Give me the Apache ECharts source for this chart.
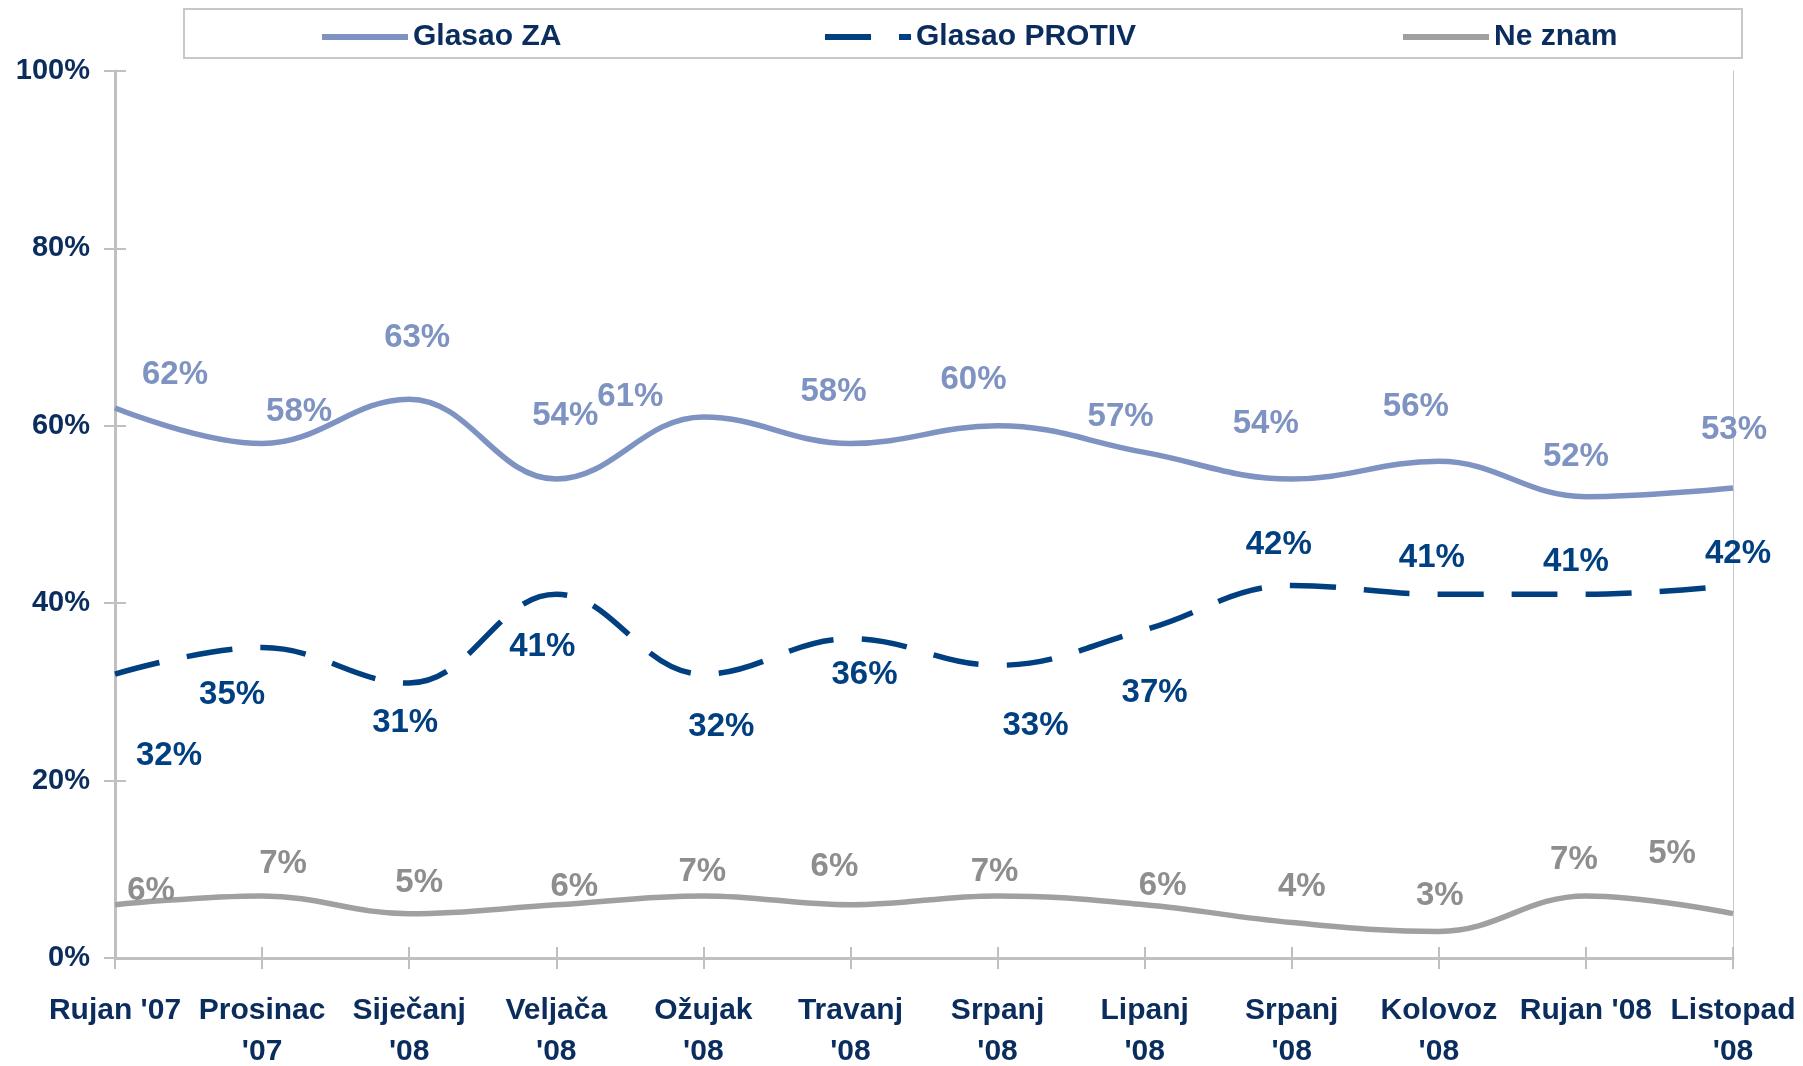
<!DOCTYPE html>
<html>
<head>
<meta charset="utf-8">
<script src="https://cdn.jsdelivr.net/npm/echarts@6/dist/echarts.min.js"></script>
<style>
  html, body { margin: 0; padding: 0; background: #fff; }
  #main { width: 1803px; height: 1066px; }
</style>
</head>
<body>
<div id="main"></div>
<script>
// podaci
const months = ["Rujan '07", "Prosinac\n'07", "Siječanj\n'08", "Veljača\n'08", "Ožujak\n'08", "Travanj\n'08",
  "Srpanj\n'08", "Lipanj\n'08", "Srpanj\n'08", "Kolovoz\n'08", "Rujan '08", "Listopad\n'08"];
const glasaoZa = [62, 58, 63, 54, 61, 58, 60, 57, 54, 56, 52, 53];
const glasaoProtiv = [32, 35, 31, 41, 32, 36, 33, 37, 42, 41, 41, 42];
const neZnam = [6, 7, 5, 6, 7, 6, 7, 6, 4, 3, 7, 5];
const yTicks = [0, 20, 40, 60, 80, 100];

// pomaci oznaka (px), rucno kao u Excelu
const zaOffsets = [[60, -33], [37, -32], [8, -61], [9, -63], [-73, -20], [-17, -52],
  [-24, -46], [-24, -36], [-26, -55], [-23, -54], [-10, -40], [1, -58]];
const protivOffsets = [[54, 82], [-30, 47], [-4, 40], [-14, 53], [18, 53], [14, 36],
  [38, 61], [10, 63], [-13, -41], [-7, -36], [-10, -32], [5, -32]];
const neZnamOffsets = [[36, -14], [21, -32], [10, -31], [18, -18], [-1, -24], [-16, -38],
  [-3, -24], [18, -19], [10, -36], [1, -35], [-12, -36], [-61, -60]];

const navy = '#0b2d5e';
const font = 'Liberation Sans, Arial, sans-serif';

function withLabels(values, offsets) {
  return values.map((v, i) => ({ value: v, label: { offset: offsets[i] } }));
}

function lineSeries(name, values, offsets, color, labelColor, type) {
  return {
    name: name,
    type: 'line',
    smooth: 0.4,
    symbol: 'circle',
    symbolSize: 0.1,
    itemStyle: { color: color },
    lineStyle: { color: color, width: 5.5, type: type || 'solid', cap: 'butt' },
    label: {
      show: true,
      position: 'inside',
      formatter: '{c}%',
      color: labelColor,
      fontFamily: font,
      fontWeight: 'bold',
      fontSize: 33
    },
    emphasis: { disabled: true },
    data: withLabels(values, offsets),
    z: 3
  };
}

function legendFor(name, left) {
  return {
    data: [name],
    left: left,
    top: 17,
    itemWidth: 86,
    itemHeight: 36,
    itemGap: 0,
    selectedMode: false,
    itemStyle: { opacity: 0 },
    lineStyle: { width: 6 },
    textStyle: { color: navy, fontFamily: font, fontWeight: 'bold', fontSize: 30 }
  };
}

const chart = echarts.init(document.getElementById('main'), null, { renderer: 'canvas' });

const option = {
  backgroundColor: '#ffffff',
  animation: false,
  graphic: [{
    type: 'rect',
    shape: { x: 184, y: 9, width: 1558, height: 49 },
    style: { fill: 'none', stroke: '#c8c8c8', lineWidth: 2 },
    z: -1
  }],
  legend: [
    legendFor('Glasao ZA', 314),
    legendFor('Glasao PROTIV', 817),
    legendFor('Ne znam', 1395)
  ],
  grid: { left: 115, right: 70, top: 71, bottom: 108, outerBoundsMode: 'none', containLabel: false },
  xAxis: [{
    type: 'category',
    data: months,
    boundaryGap: false,
    axisLine: { lineStyle: { color: '#c0c0c0', width: 3 } },
    axisTick: { show: true, length: 11, lineStyle: { color: '#c0c0c0', width: 2 } },
    axisLabel: {
      interval: 0,
      margin: 32,
      color: navy,
      fontFamily: font,
      fontWeight: 'bold',
      fontSize: 30,
      lineHeight: 41
    },
    splitLine: { show: false }
  }, {
    type: 'category',
    data: months,
    boundaryGap: false,
    position: 'bottom',
    axisLine: { show: false },
    axisTick: { show: true, inside: true, length: 11, lineStyle: { color: '#c0c0c0', width: 2 } },
    axisLabel: { show: false },
    splitLine: { show: false }
  }],
  yAxis: [{
    type: 'value',
    min: yTicks[0],
    max: yTicks[yTicks.length - 1],
    interval: 20,
    position: 'left',
    axisLine: { show: true, lineStyle: { color: '#c0c0c0', width: 3 } },
    axisTick: { show: true, length: 11, lineStyle: { color: '#c0c0c0', width: 2 } },
    axisLabel: {
      margin: 25,
      formatter: '{value}%',
      color: navy,
      fontFamily: font,
      fontWeight: 'bold',
      fontSize: 29
    },
    splitLine: { show: false }
  }, {
    type: 'value',
    min: yTicks[0],
    max: yTicks[yTicks.length - 1],
    interval: 20,
    position: 'left',
    axisLine: { show: false },
    axisTick: { show: true, inside: true, length: 11, lineStyle: { color: '#c0c0c0', width: 2 } },
    axisLabel: { show: false },
    splitLine: { show: false }
  }, {
    type: 'value',
    min: yTicks[0],
    max: yTicks[yTicks.length - 1],
    interval: 20,
    position: 'right',
    axisLine: { show: true, lineStyle: { color: '#c8c8c8', width: 1 } },
    axisTick: { show: false },
    axisLabel: { show: false },
    splitLine: { show: false }
  }],
  series: [
    lineSeries('Glasao ZA', glasaoZa, zaOffsets, '#7e93c2', '#7e93c2'),
    lineSeries('Glasao PROTIV', glasaoProtiv, protivOffsets, '#003f80', '#003f80', [46, 28]),
    lineSeries('Ne znam', neZnam, neZnamOffsets, '#a0a0a3', '#8e8e90')
  ]
};

chart.setOption(option);
</script>
</body>
</html>
